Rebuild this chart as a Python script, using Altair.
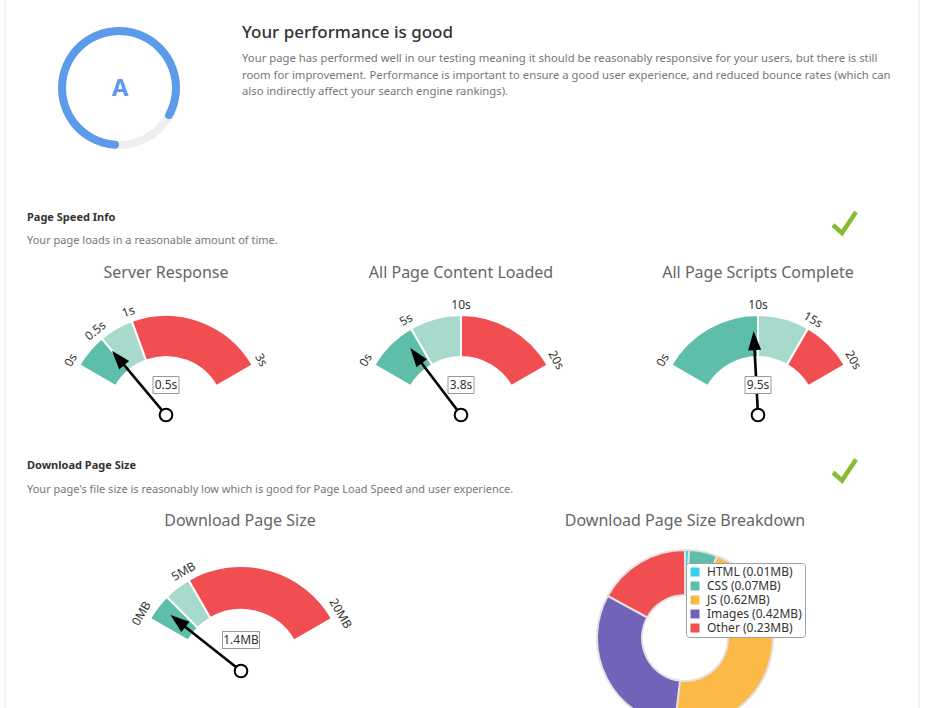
import math
import altair as alt
import pandas as pd

FONT = "Noto Sans"

# ---------------- data ----------------
grade_letter = "A"
grade_score = 84  # percent of ring filled

band_names = ["good", "ok", "bad"]
band_colors = ["#5dbea9", "#a7dacd", "#f04e51"]

sr_edges = [0, 0.5, 1, 3]
sr_ticks = [0, 0.5, 1, 3]
sr_value = 0.5

pc_edges = [0, 5, 10, 20]
pc_ticks = [0, 5, 10, 20]
pc_value = 3.8

ps_edges = [0, 10, 15, 20]
ps_ticks = [0, 10, 15, 20]
ps_value = 9.5

ds_edges = [0, 2.5, 5, 20]
ds_ticks = [0, 5, 20]
ds_value = 1.4

bd_names = ["HTML", "CSS", "JS", "Images", "Other"]
bd_sizes = [0.01, 0.07, 0.62, 0.42, 0.23]
bd_colors = ["#35d1ea", "#5dbea9", "#fdb946", "#7163b8", "#f04e51"]

para_lines = [
    "Your page has performed well in our testing meaning it should be reasonably responsive for your users, but there is still",
    "room for improvement. Performance is important to ensure a good user experience, and reduced bounce rates (which can",
    "also indirectly affect your search engine rankings).",
]

ONE = alt.Data(values=[{"k": 1}])


def needle_path(L, shaft=2.6, head_len=19, head_w=13):
    sw = shaft / 2 / L
    hl = 1 - head_len / L
    hw = head_w / 2 / L
    return (f"M{-sw:.4f},0 L{-sw:.4f},{-hl:.4f} L{-hw:.4f},{-hl:.4f} L0,-1 "
            f"L{hw:.4f},{-hl:.4f} L{sw:.4f},{-hl:.4f} L{sw:.4f},0 Z")


def box_path(w, h):
    q = h / w
    return f"M-1,{-q:.4f} L1,{-q:.4f} L1,{q:.4f} L-1,{q:.4f} Z"


def text(t, x, y, size=12, color="#333", weight="normal", align="left", baseline="middle", **kw):
    return alt.Chart(ONE).mark_text(
        text=t, fontSize=size, color=color, fontWeight=weight, align=align,
        baseline=baseline, font=FONT, **kw
    ).encode(x=alt.value(x), y=alt.value(y))


def gauge(cx, cy, R, r, edges, ticks, value, unit, L, box_w, box_dy):
    vmax = edges[-1]
    th = alt.Scale(domain=[0, vmax], range=[5 * math.pi / 3, 7 * math.pi / 3])
    an = alt.Scale(domain=[0, vmax], range=[300, 420])
    bands = pd.DataFrame({"s": edges[:-1], "e": edges[1:], "band": band_names})
    tk = pd.DataFrame({"t": ticks, "lab": [f"{v:g}{unit}" for v in ticks]})
    val = pd.DataFrame({"v": [value], "lab": [f"{value:g}{unit}"]})
    X, Y = alt.value(cx), alt.value(cy)
    arcs = alt.Chart(bands).mark_arc(
        innerRadius=r, outerRadius=R, stroke="white", strokeWidth=2
    ).encode(
        x=X, y=Y,
        theta=alt.Theta("s:Q", scale=th, stack=False),
        theta2="e:Q",
        color=alt.Color("band:N", scale=alt.Scale(domain=band_names, range=band_colors), legend=None),
    )
    tlab = alt.Chart(tk).mark_text(
        radius=R + 3, baseline="bottom", align="center", fontSize=12, font=FONT, color="#333"
    ).encode(
        x=X, y=Y,
        theta=alt.Theta("t:Q", scale=th, stack=False),
        angle=alt.Angle("t:Q", scale=an),
        text="lab:N",
    )
    needle = alt.Chart(val).mark_point(
        shape=needle_path(L), size=(2 * L) ** 2, filled=True, color="black", opacity=1, strokeWidth=0
    ).encode(x=X, y=Y, angle=alt.Angle("v:Q", scale=an))
    pivot = alt.Chart(val).mark_point(
        shape="circle", size=160, filled=True, fill="white", stroke="black", strokeWidth=2, opacity=1
    ).encode(x=X, y=Y)
    box = alt.Chart(val).mark_point(
        shape=box_path(box_w, 17), size=box_w ** 2, filled=True, fill="white",
        stroke="#999", strokeWidth=1, opacity=1
    ).encode(x=X, y=alt.value(cy - box_dy))
    vlab = alt.Chart(val).mark_text(fontSize=12, font=FONT, color="#333").encode(
        x=X, y=alt.value(cy - box_dy), text="lab:N"
    )
    return alt.layer(arcs, tlab, needle, pivot, box, vlab)


def check(cx, cy):
    return alt.Chart(ONE).mark_point(
        shape="M-0.958,0.208 L-0.208,0.875 L0.958,-0.875", size=576, filled=False,
        stroke="#86bc34", strokeWidth=4.5, opacity=1
    ).encode(x=alt.value(cx), y=alt.value(cy))


# ---------------- grade ring ----------------
ring_scale = alt.Scale(domain=[0, 100], range=[math.pi, 3 * math.pi])
track = alt.Chart(pd.DataFrame({"s": [0], "e": [100]})).mark_arc(
    innerRadius=53, outerRadius=61, color="#eeeeee"
).encode(x=alt.value(119), y=alt.value(88),
         theta=alt.Theta("s:Q", scale=ring_scale, stack=False), theta2="e:Q")
score = alt.Chart(pd.DataFrame({"s": [0], "e": [grade_score]})).mark_arc(
    innerRadius=53, outerRadius=61, color="#5b9bea", cornerRadius=4
).encode(x=alt.value(119), y=alt.value(88),
         theta=alt.Theta("s:Q", scale=ring_scale, stack=False), theta2="e:Q")
ring = alt.layer(track, score)

# ---------------- donut ----------------
bd = pd.DataFrame({
    "name": [f"{n} ({s:g}MB)" for n, s in zip(bd_names, bd_sizes)],
    "size": bd_sizes,
    "idx": list(range(len(bd_names))),
})
donut = alt.Chart(bd).mark_arc(
    innerRadius=43, outerRadius=88, stroke="#e2e2e2", strokeWidth=2
).encode(
    x=alt.value(685), y=alt.value(638),
    theta=alt.Theta("size:Q", stack=True),
    order=alt.Order("idx:Q"),
    color=alt.Color(
        "name:N",
        scale=alt.Scale(domain=list(bd["name"]), range=bd_colors),
        legend=alt.Legend(
            orient="none", legendX=686, legendY=563, title=None, symbolType="square",
            symbolSize=81, symbolStrokeWidth=0, labelFontSize=12, labelFont=FONT,
            labelColor="#333", strokeColor="#a0a0a0", fillColor="white", padding=3,
            cornerRadius=3, rowPadding=2, labelOffset=6,
        ),
    ),
)

# ---------------- layout ----------------
layers = [
    alt.Chart(ONE).mark_rule(color="#e6e6e6").encode(x=alt.value(5), y=alt.value(0), y2=alt.value(708)),
    alt.Chart(ONE).mark_rule(color="#e6e6e6").encode(x=alt.value(919), y=alt.value(0), y2=alt.value(708)),
    ring,
    text(grade_letter, 120, 89, size=24, color="#5b9bea", weight="bold", align="center"),
    text("Your performance is good", 242, 33, size=17, color="#333", weight=500),
    text("\n".join(para_lines), 242, 53, size=11.3, color="#777", baseline="top",
         lineBreak="\n", lineHeight=16.5),
    text("Page Speed Info", 27, 218, size=11, color="#333", weight="bold"),
    text("Your page loads in a reasonable amount of time.", 27, 241, size=11, color="#777"),
    check(844.5, 222.5),
    text("Server Response", 166, 273, size=16, color="#666", align="center"),
    text("All Page Content Loaded", 461, 273, size=16, color="#666", align="center"),
    text("All Page Scripts Complete", 758, 273, size=16, color="#666", align="center"),
    gauge(166, 415, 100, 58, sr_edges, sr_ticks, sr_value, "s", 84, 26, 30),
    gauge(461, 415, 100, 58, pc_edges, pc_ticks, pc_value, "s", 84, 26, 30),
    gauge(758, 415, 100, 58, ps_edges, ps_ticks, ps_value, "s", 84, 26, 30),
    text("Download Page Size", 27, 466, size=11, color="#333", weight="bold"),
    text("Your page's file size is reasonably low which is good for Page Load Speed and user experience.",
         27, 490, size=11, color="#777"),
    check(844.5, 470),
    text("Download Page Size", 240, 521, size=16, color="#666", align="center"),
    text("Download Page Size Breakdown", 685, 521, size=16, color="#666", align="center"),
    gauge(241, 671, 105, 61, ds_edges, ds_ticks, ds_value, "MB", 90, 37, 31),
    donut,
]

chart = alt.layer(*layers).resolve_scale(
    theta="independent", angle="independent", color="independent"
).properties(
    width=925, height=708, padding=0, autosize="none", background="white"
).configure_view(stroke=None)

chart.save("out.html", embed_options={"renderer": "svg", "actions": False})
